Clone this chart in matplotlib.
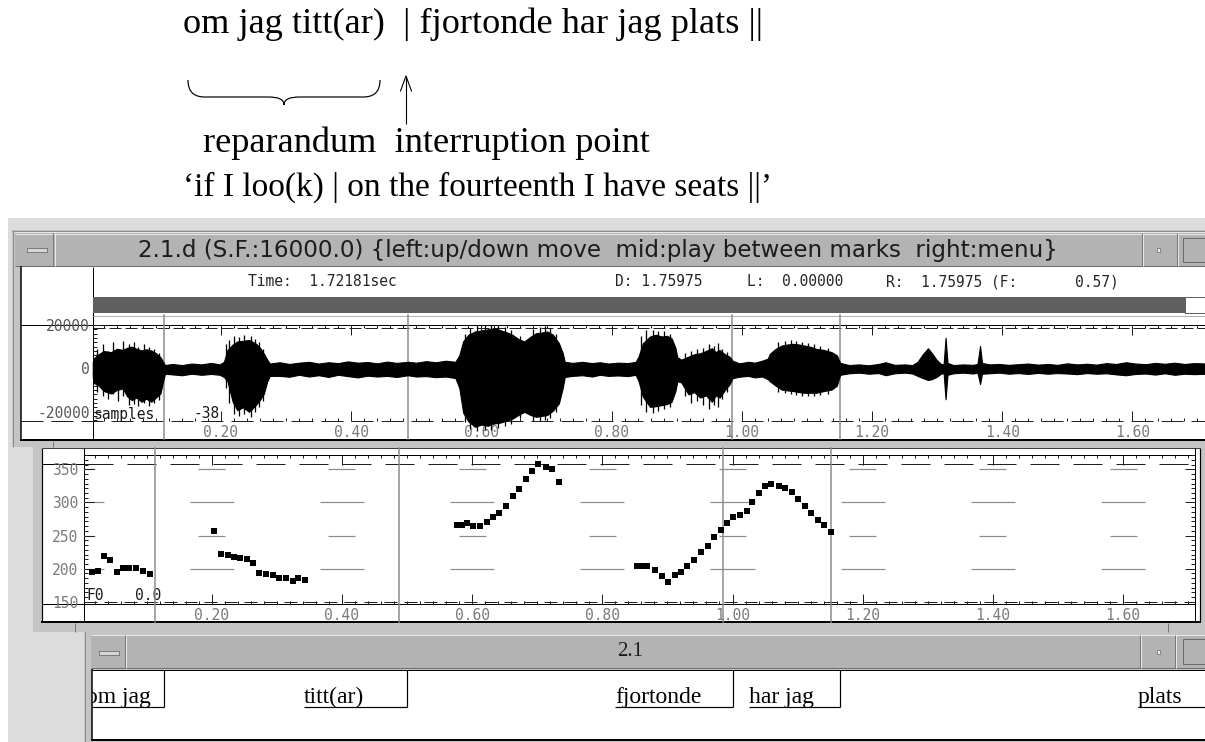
import matplotlib
matplotlib.use("Agg")
import matplotlib.pyplot as plt
from matplotlib.patches import Rectangle, PathPatch
from matplotlib.path import Path
from matplotlib.ticker import MultipleLocator

# ---------------- data ----------------
time_ticks = [0.2, 0.4, 0.6, 0.8, 1.0, 1.2, 1.4, 1.6]
time_tick_labels = ["0.20", "0.40", "0.60", "0.80", "1.00", "1.20", "1.40", "1.60"]
mark_times = [0.113, 0.487, 0.985, 1.151]

# waveform amplitude envelope (time s, upper, lower)
wave_t = [0.003, 0.005, 0.012, 0.020, 0.031, 0.040, 0.049, 0.056, 0.063, 0.070,
          0.078, 0.085, 0.093, 0.100, 0.107, 0.111, 0.114, 0.125, 0.140, 0.155,
          0.170, 0.185, 0.198, 0.2045, 0.210, 0.218, 0.225, 0.234, 0.243, 0.254,
          0.260, 0.266, 0.271, 0.275, 0.290, 0.305, 0.320, 0.335, 0.350, 0.365,
          0.380, 0.395, 0.410, 0.425, 0.440, 0.455, 0.470, 0.487, 0.500, 0.515,
          0.530, 0.545, 0.560, 0.566, 0.572, 0.580, 0.590, 0.600, 0.610, 0.619,
          0.630, 0.640, 0.648, 0.657, 0.666, 0.675, 0.684, 0.692, 0.701, 0.710,
          0.719, 0.725, 0.728, 0.740, 0.755, 0.770, 0.782, 0.795, 0.810, 0.825,
          0.837, 0.8415, 0.848, 0.859, 0.868, 0.877, 0.885, 0.892, 0.898, 0.901,
          0.907, 0.918, 0.927, 0.936, 0.945, 0.954, 0.960, 0.966, 0.974, 0.981,
          0.986, 0.996, 1.010, 1.020, 1.031, 1.040, 1.043, 1.052, 1.061, 1.070,
          1.079, 1.088, 1.096, 1.105, 1.114, 1.126, 1.138, 1.146, 1.151, 1.165,
          1.180, 1.195, 1.210, 1.221, 1.235, 1.250, 1.262, 1.270, 1.278, 1.286,
          1.292, 1.299, 1.306, 1.310, 1.313, 1.316, 1.325, 1.340, 1.355, 1.362,
          1.366, 1.369, 1.380, 1.395, 1.410, 1.425, 1.440, 1.455, 1.470, 1.485,
          1.500, 1.515, 1.530, 1.545, 1.560, 1.575, 1.590, 1.605, 1.620, 1.635,
          1.650, 1.665, 1.680, 1.695, 1.715]
wave_hi = [3000, 4760, 6500, 8000, 7450, 9000, 8500, 9500, 10000, 9000,
           8240, 8800, 8240, 7000, 5140, 3000, 1500, 2000, 1500, 2200,
           1800, 2500, 1800, 3000, 8500, 11000, 12400, 12700, 13100, 11300,
           9500, 6700, 4000, 2200, 2800, 2000, 2600, 3000, 2200, 2800,
           2400, 3200, 2600, 2900, 2300, 3100, 2500, 3000, 2600, 3300,
           2800, 3500, 3000, 6000, 12500, 15500, 17000, 17500, 18000, 18500,
           17500, 16500, 15400, 13500, 12400, 14500, 16200, 16500, 17000, 15500,
           11600, 7000, 3000, 2500, 3000, 2400, 2800, 2200, 2600, 2400,
           3000, 5500, 11600, 14700, 15500, 14700, 15000, 13900, 9500, 5100,
           4000, 5400, 6500, 6950, 8000, 9300, 7500, 8500, 6500, 5400,
           3500, 2300, 3000, 2600, 3500, 4500, 6700, 9000, 10500, 11000,
           11300, 11000, 10500, 10000, 9000, 8500, 7450, 6000, 2500, 1500,
           1800, 1400, 2000, 2800, 1600, 1800, 1500, 3000, 6500, 9240,
           7000, 4000, 2000, 1800, 14100, 2500, 1500, 1800, 1600, 2000,
           10300, 2500, 1800, 2000, 1600, 1900, 2200, 1700, 2000, 1600,
           2300, 1800, 2100, 1700, 2400, 2000, 2800, 2200, 1900, 2500,
           2100, 2600, 2000, 2400, 2200]
wave_lo = [-4000, -6800, -8000, -10500, -11600, -10000, -9300, -13000, -14700, -13500,
           -15450, -14000, -15450, -13500, -11600, -6000, -2500, -2800, -3200, -2500,
           -3000, -2600, -3000, -4000, -6000, -15500, -19300, -18000, -20100, -16800,
           -14500, -11600, -6000, -3500, -3500, -3900, -3000, -3800, -3200, -4000,
           -3000, -3600, -4200, -3400, -3800, -3500, -4000, -3200, -3800, -3600,
           -4100, -3800, -4500, -9000, -20500, -24500, -27000, -26000, -26500, -25500,
           -25000, -24000, -23200, -21500, -20100, -21500, -22400, -22000, -21600, -19500,
           -16200, -9000, -4000, -3500, -3200, -3800, -3000, -3500, -3300, -3600,
           -3000, -6000, -13100, -17800, -17500, -17000, -16500, -15500, -10500, -6000,
           -6500, -12000, -11000, -13500, -12500, -15500, -12500, -13500, -10000, -7500,
           -4500, -3900, -3500, -4200, -3800, -5000, -6000, -8000, -9800, -10200,
           -10500, -11000, -11300, -11300, -11300, -10500, -9800, -8000, -3000, -2300,
           -2000, -2500, -2200, -3200, -2300, -2000, -2400, -3500, -4500, -5400,
           -5000, -4000, -2500, -2200, -14300, -3000, -2300, -2000, -2400, -2000,
           -7250, -2500, -2300, -2000, -2500, -2200, -2600, -2100, -2500, -2200,
           -2400, -2700, -2200, -2500, -2300, -2800, -3200, -2600, -2400, -2900,
           -2300, -3000, -2500, -2700, -2500]
# individual vertical excursions (spikes) visible at the burst edges
spike_t = [0.010, 0.018, 0.027, 0.034, 0.042, 0.050, 0.058, 0.066, 0.073, 0.081,
           0.089, 0.097, 0.104,
           0.208, 0.213, 0.220, 0.228, 0.236, 0.246, 0.252, 0.258, 0.264,
           0.575, 0.583, 0.594, 0.605, 0.615, 0.625, 0.636, 0.645, 0.660, 0.680,
           0.690, 0.698, 0.706, 0.715,
           0.845, 0.853, 0.863, 0.872, 0.881, 0.889, 0.913, 0.922, 0.931, 0.940,
           0.950, 0.958, 0.963, 0.970, 0.977,
           1.056, 1.066, 1.075, 1.084, 1.093, 1.102, 1.111, 1.120, 1.132]
spike_hi = [9000, 11000, 8000, 12000, 9000, 12500, 11000, 12000, 10000, 11000,
            10000, 9000, 7000,
            11000, 13000, 15000, 14500, 15500, 15000, 13500, 12000, 9000,
            16000, 18500, 20000, 20000, 20000, 20000, 19000, 17500, 15000, 18000,
            19000, 19500, 18500, 16000,
            15000, 17500, 17500, 17000, 17000, 16000, 7000, 8000, 9000, 9500,
            11000, 10500, 11500, 9000, 7500,
            12000, 12500, 13000, 12500, 12000, 11500, 11000, 10500, 9500]
spike_lo = [-11000, -13000, -14000, -12000, -15000, -13000, -17000, -16500, -17500, -16000,
            -17500, -16000, -14500,
            -9000, -16000, -21000, -22000, -21000, -22500, -20000, -18000, -15000,
            -25000, -28000, -29000, -28500, -28500, -27500, -26500, -25500, -23000, -24500,
            -24500, -24000, -23000, -20000,
            -17000, -20000, -20500, -19500, -19000, -18000, -13000, -16000, -15000, -17000,
            -19000, -17000, -18000, -14000, -11000,
            -11000, -11500, -12000, -12500, -13000, -13000, -13000, -12500, -12000]
wave_ticks = [-20000, 0, 20000]
wave_tick_labels = ["-20000", "0", "20000"]

# F0 track (time s, Hz)
f0_t = [0.0158, 0.0247, 0.0346, 0.0441, 0.0541, 0.0641, 0.0736, 0.0836, 0.0940, 0.1052,
        0.2040, 0.2146, 0.2246, 0.2346, 0.2439, 0.2539, 0.2628, 0.2734, 0.2834, 0.2934,
        0.3040, 0.3140, 0.3246, 0.3333, 0.3439,
        0.5763, 0.5840, 0.5926, 0.6018, 0.6121, 0.6234, 0.6326, 0.6418, 0.6521, 0.6633,
        0.6720, 0.6823, 0.6916, 0.7017, 0.7131, 0.7223, 0.7335,
        0.8528, 0.8606, 0.8691, 0.8810, 0.8922, 0.9014, 0.9117, 0.9214, 0.9306, 0.9409,
        0.9512, 0.9619, 0.9716, 0.9819, 0.9911, 1.0012, 1.0115, 1.0218, 1.0304, 1.0412,
        1.0504, 1.0591, 1.0714, 1.0806, 1.0919, 1.1011, 1.1114, 1.1206, 1.1309, 1.1410,
        1.1508]
f0_hz = [195.5, 197.0, 219.6, 213.1, 195.5, 200.6, 201.5, 201.5, 196.5, 191.6,
         257.3, 221.7, 220.7, 217.7, 216.6, 214.2, 208.2, 193.1, 191.6, 191.0,
         186.4, 185.5, 181.5, 185.5, 183.0,
         265.9, 265.9, 269.4, 264.4, 264.4, 270.9, 277.6, 283.6, 294.6, 309.7,
         319.8, 334.9, 347.9, 357.5, 353.0, 350.0, 331.3,
         204.1, 204.1, 204.1, 198.0, 189.0, 180.4, 190.5, 195.5, 204.1, 213.1,
         225.7, 234.3, 247.4, 258.4, 268.5, 278.5, 281.0, 287.5, 301.1, 313.8,
         324.8, 327.8, 324.8, 322.2, 316.2, 304.7, 294.6, 283.6, 273.5, 265.9,
         255.8]
f0_ticks = [150, 200, 250, 300, 350]
f0_tick_labels = ["150", "200", "250", "300", "350"]
f0_grid_long = [200, 300]
f0_grid_short = [250, 350]
f0_grid_centres = [0.0, 0.2, 0.4, 0.6, 0.8, 1.0, 1.2, 1.4, 1.6]

label_words = ["om jag", "titt(ar)", "fjortonde", "har jag", "plats"]
label_starts = [-0.008, 0.327, 0.805, 1.011, 1.608]
label_ends = [0.112, 0.486, 0.986, 1.151, 1.760]

line1 = "om jag titt(ar)  | fjortonde har jag plats ||"
line3 = "reparandum  interruption point"
line4 = "\u2018if I loo(k) | on the fourteenth I have seats ||\u2019"
title_text = "2.1.d (S.F.:16000.0) {left:up/down move  mid:play between marks  right:menu}"

# ---------------- setup ----------------
rc = plt.rcParams
rc['font.family'] = 'DejaVu Sans Mono'
rc['lines.scale_dashes'] = False
rc['axes.unicode_minus'] = False

W, H = 1205, 742
PT = 0.72
fig = plt.figure(figsize=(W / 100, H / 100), dpi=100)
fig.patch.set_facecolor('white')
bg = fig.add_axes([0, 0, 1, 1], zorder=0)
bg.set_xlim(0, W)
bg.set_ylim(H, 0)
bg.axis('off')
renderer = fig.canvas.get_renderer()


def px_axes(x0, y0, x1, y1):
    ax = fig.add_axes([x0 / W, 1 - y1 / H, (x1 - x0) / W, (y1 - y0) / H], zorder=2)
    ax.set_facecolor('none')
    for s in ax.spines.values():
        s.set_visible(False)
    return ax


def rect(x0, y0, x1, y1, fc, ec='none', lw=0, z=1):
    bg.add_patch(Rectangle((x0, y0), x1 - x0, y1 - y0, facecolor=fc,
                           edgecolor=ec, linewidth=lw * PT, zorder=z))


def seg(x0, y0, x1, y1, c='black', lw=1, z=3, dashes=None):
    kw = {}
    if dashes:
        kw['dashes'] = [d * PT for d in dashes]
    bg.plot([x0, x1], [y0, y1], color=c, lw=lw * PT, solid_capstyle='butt',
            dash_capstyle='butt', zorder=z, **kw)


def fit(txt, width):
    bb = txt.get_window_extent(renderer)
    txt.set_fontsize(txt.get_fontsize() * width / bb.width)


DESK = '#dcdcdc'
FRAME = '#c4c4c4'
TITLE = '#b3b3b3'
BAR = '#5f5f5f'
MARK = '#8a8a8a'
LIGHT = '#e8e8e8'
SHADE = '#777777'
SERIF = 'Liberation Serif'

# ---------------- top annotation ----------------
t1 = bg.text(183, 24, line1, family=SERIF, fontsize=20, va='center', ha='left', color='black')
fit(t1, 578)
fs = t1.get_fontsize()
bg.text(203, 143, line3, family=SERIF, fontsize=fs, va='center', ha='left', color='black')
t4 = bg.text(183, 187, line4, family=SERIF, fontsize=fs, va='center', ha='left', color='black')
fit(t4, 592)
brace = Path([(188, 80), (188, 92), (194, 97), (205, 97), (268, 97),
              (278, 97), (284, 99), (284, 105), (284, 99), (290, 97), (300, 97),
              (363, 97), (374, 97), (380, 92), (380, 80)],
             [Path.MOVETO, Path.CURVE4, Path.CURVE4, Path.CURVE4, Path.LINETO,
              Path.CURVE4, Path.CURVE4, Path.CURVE4, Path.CURVE4, Path.CURVE4, Path.CURVE4,
              Path.LINETO, Path.CURVE4, Path.CURVE4, Path.CURVE4])
bg.add_patch(PathPatch(brace, facecolor='none', edgecolor='black', lw=1.2 * PT, zorder=3))
seg(406, 124, 406, 76, 'black', 1.1)
bg.plot([400.5, 406, 411.5], [91, 76, 91], color='black', lw=1.1 * PT, zorder=3)

# ---------------- desktop & waveform window ----------------
rect(8, 218, W, H, DESK)
rect(12, 230, W, 447, FRAME)
seg(12, 230.5, W, 230.5, '#8c8c8c')
seg(12.5, 230, 12.5, 447, '#8c8c8c')
seg(14, 232, W, 232, LIGHT)
rect(15, 233, W, 265.5, TITLE)
seg(15, 233.5, W, 233.5, LIGHT)
seg(15, 265.5, W, 265.5, '#6e6e6e')
seg(53.3, 233, 53.3, 265.5, SHADE)
seg(54.5, 233, 54.5, 265.5, LIGHT)
rect(27, 248, 47, 251.5, '#d6d6d6', '#6a6a6a', 0.8)
seg(1141.7, 233, 1141.7, 265.5, SHADE)
seg(1143, 233, 1143, 265.5, LIGHT)
rect(1156.5, 248, 1160, 251.5, '#ececec', SHADE, 0.8)
seg(1176.7, 233, 1176.7, 265.5, SHADE)
seg(1178, 233, 1178, 265.5, LIGHT)
rect(1183, 238, 1215, 262, TITLE, '#6a6a6a', 1)
tt = bg.text(138, 250.7, title_text, family='DejaVu Sans', fontsize=13, va='center',
             ha='left', color='#1c1c1c', zorder=4)
fit(tt, 1056.7 - 138)

rect(20.7, 266.5, W, 439.3, 'white', z=2)
seg(20.7, 266, 20.7, 440, 'black', 1.5)
seg(20, 439.5, W, 439.5, 'black', 2)
seg(92.7, 266.5, 92.7, 439.3, 'black', 1)
seg(53.3, 440.5, 53.3, 447, SHADE)
info_kw = dict(fontsize=10.5, va='center', ha='left', color='#262626', zorder=4)
bg.text(248.5, 281.7, "Time:  1.72181sec", **info_kw)
bg.text(615, 281.7, "D: 1.75975", **info_kw)
bg.text(747, 281.7, "L:  0.00000", **info_kw)
bg.text(886, 281.7, "R:  1.75975 (F:", **info_kw)
bg.text(1075, 281.7, "0.57)", **info_kw)
rect(92.7, 296.7, 1185, 313.3, BAR, z=3)
rect(1185, 296.7, 1206, 313.3, 'white', '#3a3a3a', 0.8, z=3)
seg(92.7, 315.5, W, 315.5, '#b0b0b0')
seg(20.7, 325, W, 325, 'black', 1)
seg(92.7, 328, W, 328, '#202020', 1, dashes=(12, 4))
seg(20.7, 420.5, W, 420.5, '#202020', 1, dashes=(22, 8))
bg.text(93.5, 414.5, "samples", fontsize=10.5, va='center', ha='left', color='#1a1a1a', zorder=4)
bg.text(193, 413, "-38", fontsize=10.5, va='center', ha='left', color='#1a1a1a', zorder=4)

# ---------------- F0 window ----------------
rect(33, 447, W, 632, FRAME)
rect(41.7, 448.3, 1200.4, 621.7, 'white', z=2)
seg(41.7, 447.5, 41.7, 622, 'black', 1.2)
seg(1200.4, 447.5, 1200.4, 622, 'black', 1.2)
seg(41.7, 447.8, 1200.4, 447.8, '#404040', 1)
seg(41, 621.7, 1201, 621.7, 'black', 2)
seg(84.3, 448.3, 84.3, 621.7, 'black', 1)
seg(1194.6, 448.3, 1194.6, 621.7, 'black', 1)
seg(84.3, 455, 1194.6, 455, 'black', 1)
seg(41.7, 464.3, 84.3, 464.3, 'black', 1)
seg(84.3, 464.3, 1194.6, 464.3, '#202020', 1, dashes=(29, 14))
seg(84.3, 601.5, 1194.6, 601.5, '#202020', 1, dashes=(13, 7))
seg(41.7, 604.3, 1194.6, 604.3, 'black', 1)
seg(75, 622.5, 75, 631.5, SHADE)
seg(1167.6, 622.5, 1167.6, 631.5, SHADE)
bg.text(86.5, 595, "F0", fontsize=10.5, va='center', ha='left', color='#1a1a1a', zorder=4)
bg.text(135, 595, "0.0", fontsize=10.5, va='center', ha='left', color='#1a1a1a', zorder=4)

# ---------------- label window ----------------
rect(84, 631.7, W, H, FRAME)
seg(84.5, 631.7, 84.5, H, '#8c8c8c')
rect(91, 634.5, W, 668, TITLE)
seg(91, 635, W, 635, LIGHT)
seg(91, 668, W, 668, '#6e6e6e')
seg(125, 634.5, 125, 668, SHADE)
seg(126.3, 634.5, 126.3, 668, LIGHT)
rect(99, 651, 119, 654.5, '#d6d6d6', '#6a6a6a', 0.8)
seg(1140, 634.5, 1140, 668, SHADE)
seg(1141.3, 634.5, 1141.3, 668, LIGHT)
rect(1156.5, 650, 1160, 653.5, '#ececec', SHADE, 0.8)
seg(1175, 634.5, 1175, 668, SHADE)
seg(1176.3, 634.5, 1176.3, 668, LIGHT)
rect(1183, 639, 1215, 664, TITLE, '#6a6a6a', 1)
bg.text(630, 652, "2.1", family=SERIF, fontsize=15, va='center', ha='center', color='#1c1c1c', zorder=4)
rect(91.7, 669.5, W, 740, 'white', z=2)
seg(91.7, 669, 91.7, 741, 'black', 1.5)
seg(91, 740.3, W, 740.3, 'black', 2)
seg(91.7, 670, W, 670, 'black', 1)

# ---------------- waveform axes ----------------
ax_w = px_axes(92.7, 325, 1207, 420.5)
ax_w.set_xlim((92.7 - 90.8) / 651, (1207 - 90.8) / 651)
ax_w.set_ylim(-24100, 20000)
for t in mark_times:
    ax_w.axvline(t, ymin=-0.197, ymax=1.105, color=MARK, lw=1.5 * PT, clip_on=False, zorder=1)
ax_w.fill_between(wave_t, wave_lo, wave_hi, color='black', lw=0.8, clip_on=False, zorder=2)
ax_w.vlines(spike_t, spike_lo, spike_hi, color='black', lw=1.3 * PT, clip_on=False, zorder=2)

# ---------------- F0 axes ----------------
ax_f = px_axes(84.3, 455, 1194.6, 604.3)
ax_f.set_xlim((84.3 - 81.5) / 651, (1194.6 - 81.5) / 651)
ax_f.set_ylim(146.3, 371.6)
for t in mark_times:
    ax_f.axvline(t, ymin=-0.1165, ymax=1.045, color=MARK, lw=1.5 * PT, clip_on=False, zorder=1)
for c in f0_grid_centres:
    ax_f.hlines(f0_grid_long, c - 0.0338, c + 0.0338, color='#8c8c8c', lw=1.2 * PT, zorder=1)
    ax_f.hlines(f0_grid_short, c - 0.0207, c + 0.0207, color='#8c8c8c', lw=1.2 * PT, zorder=1)
ax_f.plot(f0_t, f0_hz, ls='none', marker='s', ms=4.4, mfc='black', mec='black', mew=0, zorder=3)

# ticks
for ax, ypad in ((ax_w, 3.2), (ax_f, 3.0)):
    ax.set_xticks(time_ticks, time_tick_labels)
    ax.xaxis.set_minor_locator(MultipleLocator(0.02))
    ax.tick_params(axis='x', which='both', top=True, bottom=True, direction='in',
                   color='#202020', width=PT, labelcolor='#7a7a7a', labelsize=10.5, pad=ypad)
    ax.tick_params(axis='x', which='major', length=7)
    ax.tick_params(axis='x', which='minor', length=2.2)

ax_w.set_yticks(wave_ticks, wave_tick_labels)
ax_w.yaxis.set_minor_locator(MultipleLocator(2000))
ax_w.tick_params(axis='y', which='both', left=True, right=False, direction='in', color='#202020',
                 width=PT, labelcolor='#5a5a5a', labelsize=10.5, pad=2.2)
ax_w.tick_params(axis='y', which='major', length=6)
ax_w.tick_params(axis='y', which='minor', length=3)

ax_f.set_yticks(f0_ticks, f0_tick_labels)
ax_f.yaxis.set_minor_locator(MultipleLocator(50 / 7))
ax_f.tick_params(axis='y', which='both', left=True, right=True, direction='in', color='#202020',
                 width=PT, labelcolor='#7a7a7a', labelsize=10.5, pad=4.3)
ax_f.tick_params(axis='y', which='major', length=7)
ax_f.tick_params(axis='y', which='minor', length=3)

# ---------------- label axes ----------------
ax_l = px_axes(91.7, 670, 1207, 740)
lx0 = (91.7 - 90.8) / 651
ax_l.set_xlim(lx0, (1207 - 90.8) / 651)
ax_l.set_ylim(70, 0)
ax_l.set_xticks([])
ax_l.set_yticks([])
ax_l.vlines(label_ends, 0, 36.7, color='black', lw=1.2 * PT)
for w, s, e in zip(label_words, label_starts, label_ends):
    ax_l.hlines(36.7, max(s, lx0), e, color='black', lw=1.2 * PT)
    ax_l.text(s, 33.5, w, family=SERIF, fontsize=17, va='baseline', ha='left',
              color='black', clip_on=True)

fig.savefig("out.png", dpi=100, facecolor='white')
